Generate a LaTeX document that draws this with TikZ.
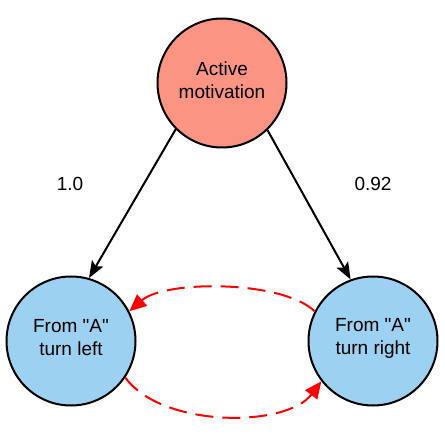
\documentclass[tikz,border=0pt]{standalone}
\usepackage{fontspec}
\setmainfont{Liberation Sans}[Ligatures=TeXOff]
\usetikzlibrary{arrows.meta}
\definecolor{salmon}{HTML}{FC9483}
\definecolor{skyb}{HTML}{9DD1F1}
\begin{document}
\begin{tikzpicture}[x=1pt,y=1pt,
  bubble/.style={circle,draw=black,line width=2pt,minimum size=129pt,inner sep=0pt},
  intext/.style={font=\fontsize{19}{23}\selectfont,align=center,inner sep=0pt,yshift=3pt},
  wlabel/.style={font=\fontsize{19}{23}\selectfont,inner sep=0pt},
  blackarrow/.style={line width=2pt,-{Stealth[length=17pt,width=13pt,inset=3.5pt]}},
  redarrow/.style={red,line width=2pt,dash pattern=on 18pt off 9pt,-{Triangle[length=17pt,width=15pt]}}]
\useasboundingbox (0,0) rectangle (445,448);
\node[bubble,fill=salmon,label={[intext]center:Active\\motivation}] (act) at (222,365) {};
\node[bubble,fill=skyb,label={[intext]center:From "A"\\turn left}] (left) at (71,107) {};
\node[bubble,fill=skyb,label={[intext]center:From "A"\\turn right}] (right) at (373,107) {};
\node[wlabel] (l1) at (70,264) {1.0};
\node[wlabel] (l2) at (373,264) {0.92};
\draw[blackarrow] (act.-135) -- (left.74);
\draw[blackarrow] (act.-46) -- (right.110);
\draw[redarrow] (right.153) .. controls (282,168) and (165,168) .. (left.27);
\draw[redarrow] (left.-34) .. controls (162,20) and (286,20) .. (right.-142);
\end{tikzpicture}
\end{document}
